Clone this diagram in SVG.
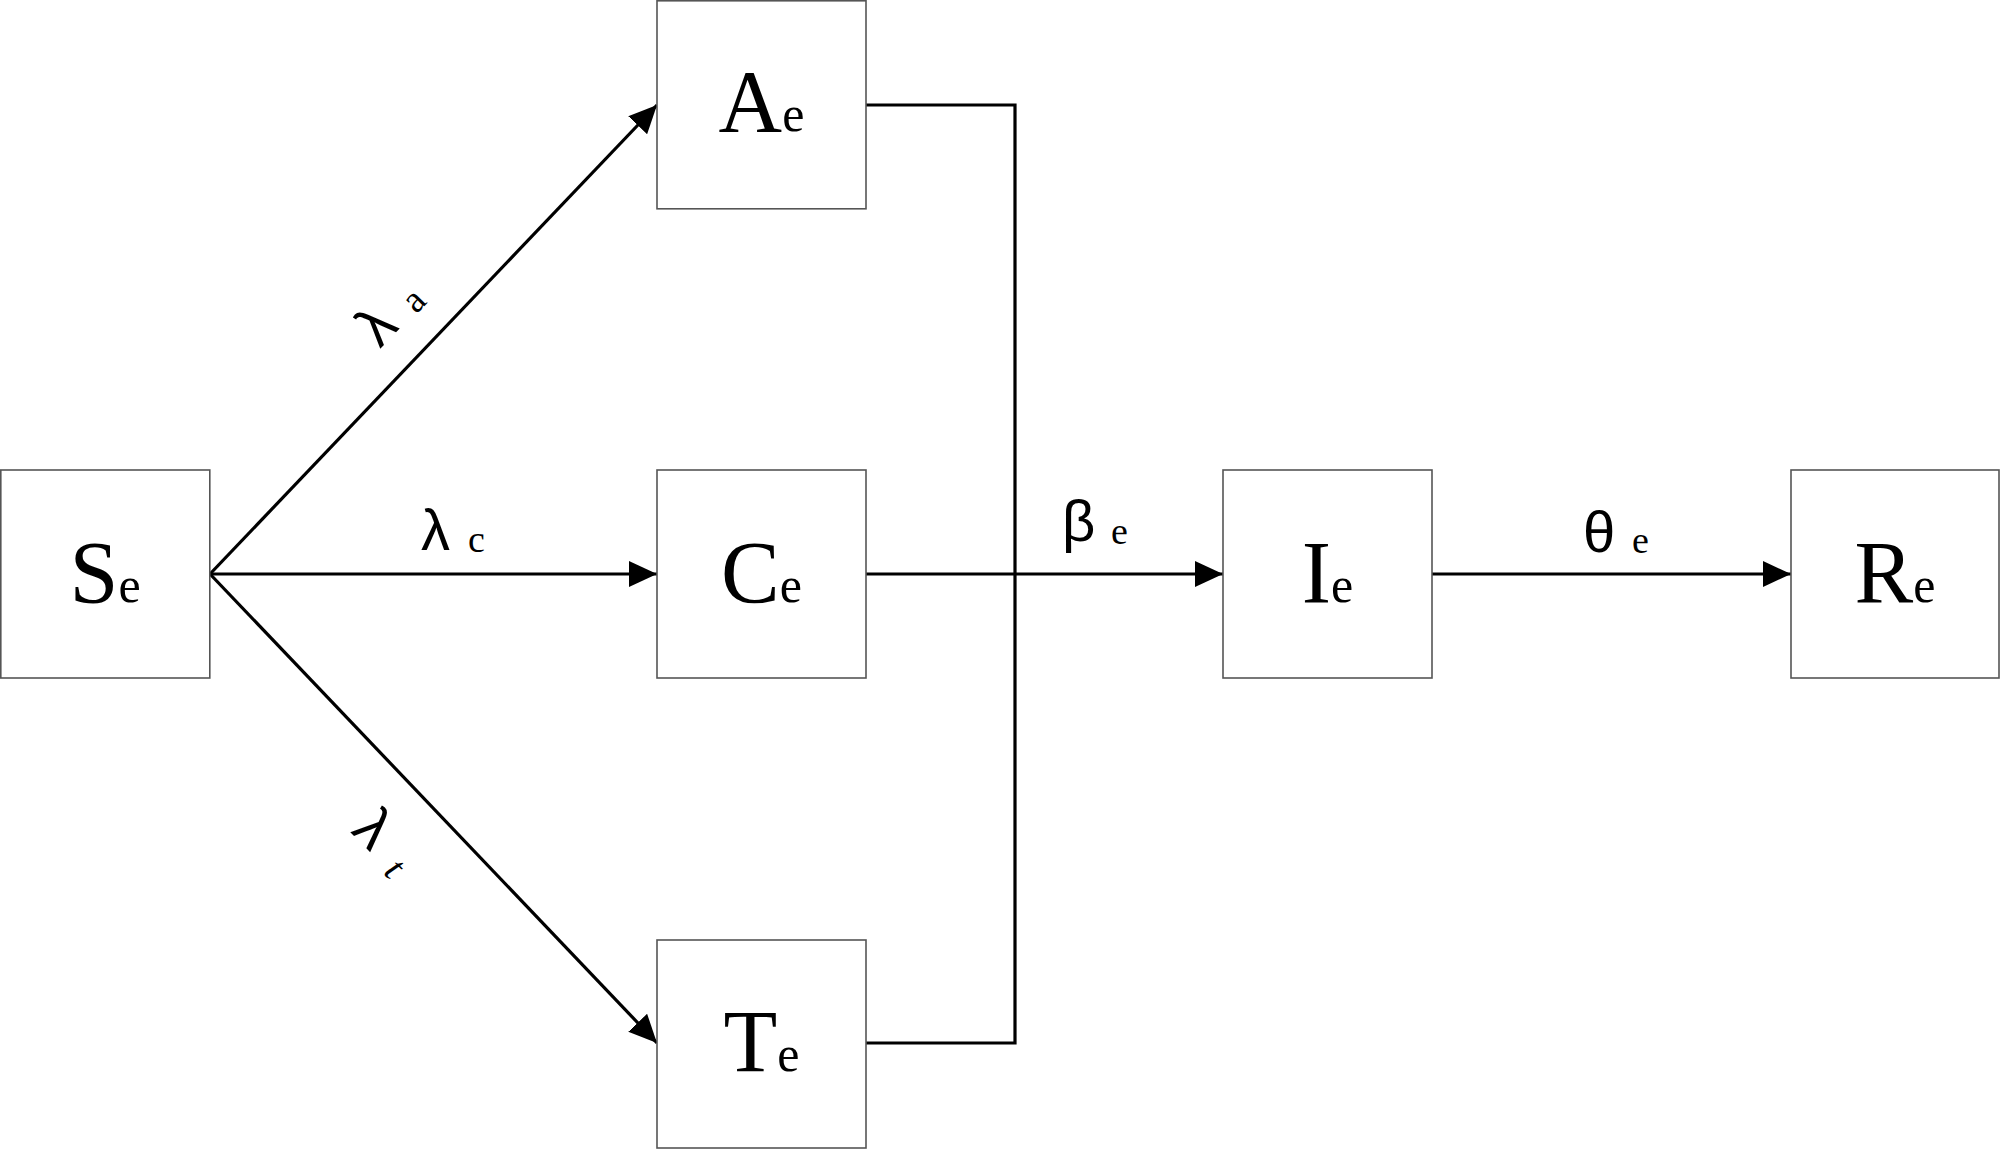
<svg xmlns="http://www.w3.org/2000/svg" width="2000" height="1149" viewBox="0 0 2000 1149">
<style>
.box{fill:#fff;stroke:#555;stroke-width:1.6}
.cap{font-family:"Liberation Serif",serif;font-size:88px;fill:#000}
.sub{font-family:"Liberation Serif",serif;font-size:50px}
.gr{font-family:"Liberation Sans",sans-serif;font-size:58px;fill:#000}
.sm{font-family:"Liberation Serif",serif;font-size:38px;fill:#000}
.ln{fill:none;stroke:#000;stroke-width:3.2}
</style>
<defs>
<marker id="ah" markerUnits="userSpaceOnUse" markerWidth="28" markerHeight="26" refX="28" refY="13" orient="auto">
<path d="M0,0 L28,13 L0,26 z" fill="#000"/>
</marker>
</defs>
<rect width="2000" height="1149" fill="#fff"/>
<g id="connectors">
<line class="ln" x1="210" y1="574" x2="657" y2="105" marker-end="url(#ah)"/>
<line class="ln" x1="210" y1="574" x2="657" y2="574" marker-end="url(#ah)"/>
<line class="ln" x1="210" y1="574" x2="657" y2="1043" marker-end="url(#ah)"/>
<path class="ln" d="M866,105 H1015 V1043 H866"/>
<line class="ln" x1="866" y1="574" x2="1223" y2="574" marker-end="url(#ah)"/>
<line class="ln" x1="1432" y1="574" x2="1791" y2="574" marker-end="url(#ah)"/>
<g transform="translate(380,349) rotate(-46)"><text class="gr" x="0" y="0">λ</text><text class="sm" x="50" y="2">a</text></g>
<text class="gr" x="421" y="550">λ</text><text class="sm" x="468" y="552">c</text>
<g transform="translate(350,832) rotate(45)"><text class="gr" x="0" y="0">λ</text><text class="sm" x="52" y="6" font-style="italic">t</text></g>
<text class="gr" x="1062" y="541">β</text><text class="sm" x="1111" y="544">e</text>
<text class="gr" x="1583" y="552">θ</text><text class="sm" x="1632" y="553">e</text>
</g>
<g id="S"><rect class="box" x="0.8" y="470" width="209" height="208"/><text class="cap" x="105" y="602" text-anchor="middle">S<tspan class="sub">e</tspan></text></g>
<g id="A"><rect class="box" x="657" y="0.8" width="209" height="208"/><text class="cap" x="761.5" y="131" text-anchor="middle">A<tspan class="sub">e</tspan></text></g>
<g id="C"><rect class="box" x="657" y="470" width="209" height="208"/><text class="cap" x="761.5" y="602" text-anchor="middle">C<tspan class="sub">e</tspan></text></g>
<g id="T"><rect class="box" x="657" y="940" width="209" height="208"/><text class="cap" x="761.5" y="1071" text-anchor="middle">T<tspan class="sub">e</tspan></text></g>
<g id="I"><rect class="box" x="1223" y="470" width="209" height="208"/><text class="cap" x="1327.5" y="602" text-anchor="middle">I<tspan class="sub">e</tspan></text></g>
<g id="R"><rect class="box" x="1791" y="470" width="208" height="208"/><text class="cap" x="1895" y="602" text-anchor="middle">R<tspan class="sub">e</tspan></text></g>
</svg>
